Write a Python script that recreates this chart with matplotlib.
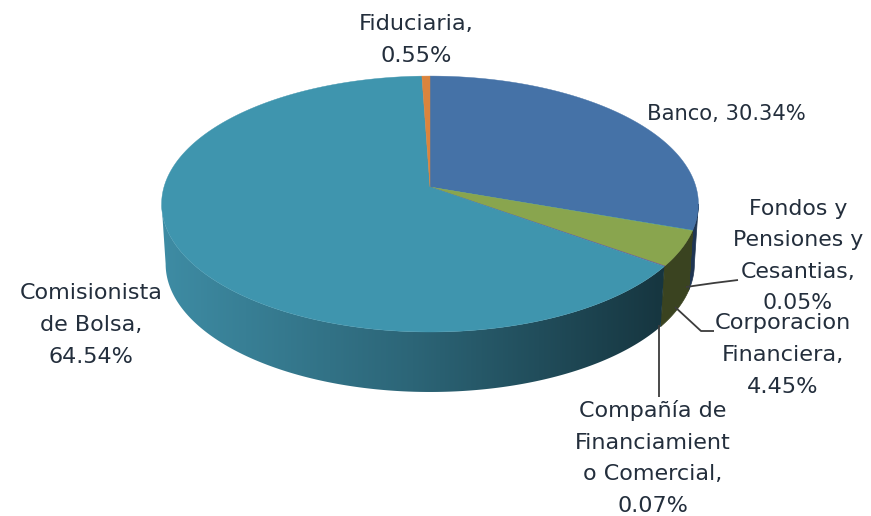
import numpy as np
import matplotlib
matplotlib.use("Agg")
import matplotlib.pyplot as plt
from matplotlib.patches import Polygon
from matplotlib.colors import LinearSegmentedColormap

# Data
categories = ["Banco", "Fondos y\nPensiones y\nCesantias", "Corporacion\nFinanciera",
              "Compañía de\nFinanciamient\no Comercial", "Comisionista\nde Bolsa", "Fiduciaria"]
values = [30.34, 0.05, 4.45, 0.07, 64.54, 0.55]
colors = ["#4572A7", "#4198AF", "#89A54E", "#71588F", "#3F95AE", "#DB843D"]
side_colors = ["#1F3552", "#3A4320", "#3A4320", "#3A4320", None, "#6B3F1C"]

# Layout (pixels)
W, H = 871, 516
CX, CY = 430, 187
RX, RY, K = 266, 125.7, 0.133
DEPTH = 60
SHRINK = 0.985
TXT = "#232E3C"
FRONT_START = 97.6
FRONT_END = 262.4

fig = plt.figure(figsize=(W / 100, H / 100), dpi=100)
ax = fig.add_axes([0, 0, 1, 1])
ax.set_xlim(0, W)
ax.set_ylim(H, 0)
ax.axis("off")


def project(theta):
    """theta: clockwise from the top, degrees"""
    t = np.radians(theta)
    x, y = np.sin(t), np.cos(t)
    w = 1 + K * y
    return CX + RX * x / w, CY - RY * y / w


edges = np.concatenate([[0], np.cumsum(values)]) * 3.6
gradient = LinearSegmentedColormap.from_list("wall", ["#3E8CA4", "#2C6577", "#16353F"])

# side wall: only the front part of the rim is visible
for i, (a, b) in enumerate(zip(edges[:-1], edges[1:])):
    lo, hi = max(a, FRONT_START), min(b, FRONT_END)
    if hi <= lo:
        continue
    th = np.linspace(lo, hi, max(int((hi - lo) * 4), 2))
    x, y = project(th)
    xb = CX + (x - CX) * SHRINK
    yb = y + DEPTH
    outline = np.column_stack([np.r_[x, xb[::-1]], np.r_[y, yb[::-1]]])
    if side_colors[i]:
        ax.add_patch(Polygon(outline, closed=True, fc=side_colors[i], ec=side_colors[i],
                             lw=0.5, zorder=2))
    else:
        poly = Polygon(outline, closed=True, fc="none", ec="none", transform=ax.transData)
        ax.add_patch(poly)
        im = ax.imshow(np.linspace(0, 1, 256)[None, :], cmap=gradient, aspect="auto",
                       extent=(x.min() - 1, x.max() + 1, yb.max() + 1, y.min() - 1),
                       zorder=2, interpolation="bilinear")
        im.set_clip_path(poly)

ax.set_xlim(0, W)
ax.set_ylim(H, 0)

# top faces
for i, (a, b) in enumerate(zip(edges[:-1], edges[1:])):
    th = np.linspace(a, b, max(int(b - a) * 2, 4))
    px, py = project(th)
    ax.add_patch(Polygon(np.column_stack([np.r_[CX, px], np.r_[CY, py]]), closed=True,
                         fc=colors[i], ec=colors[i], lw=0.3, zorder=3))

# leader lines
for xs, ys in [([686, 714, 738], [287, 283, 280]),
               ([675, 701, 714], [307, 331, 331]),
               ([659, 659], [325, 397])]:
    ax.plot(xs, ys, color="#3C3C3C", lw=1.3, zorder=4, solid_capstyle="butt")

# labels
labels = [f"{c}, {v:.2f}%" if j == 0 else f"{c},\n{v:.2f}%"
          for j, (c, v) in enumerate(zip(categories, values))]
pos = [(726, 114), (798, 256), (783, 355), (653, 458), (91, 325), (416, 40)]
sizes = [15.2, 15.8, 16.2, 16.0, 16.0, 16.2]
for lab, (x, y), fs in zip(labels, pos, sizes):
    ax.text(x, y, lab, ha="center", va="center", ma="center", fontsize=fs, color=TXT,
            linespacing=1.72, zorder=5, family="DejaVu Sans")

fig.savefig("out.png", dpi=100, facecolor="white")
